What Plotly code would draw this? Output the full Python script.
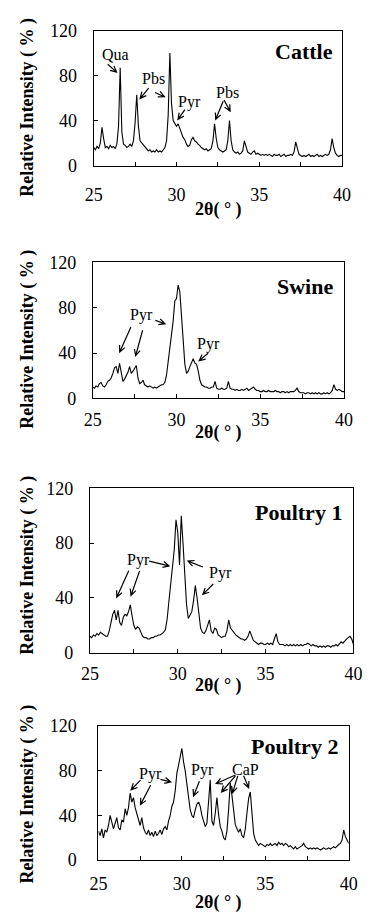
import math
import numpy as np
import plotly.graph_objects as go

# ---------------- data ----------------
two_theta = np.round(np.arange(25.0, 40.0001, 0.1), 1)  # 2-theta sampling grid (deg)

cattle = [
    16, 14, 17, 15, 20, 34, 24, 16, 17, 15,
    18, 16, 17, 15, 19, 35, 87, 30, 19, 18,
    16, 17, 19, 17, 22, 38, 63, 35, 22, 20,
    19, 16, 14, 13, 14, 12, 13, 12, 14, 12,
    13, 12, 14, 16, 22, 45, 100, 55, 40, 38,
    35, 37, 33, 29, 25, 23, 19, 17, 18, 23,
    25, 22, 21, 19, 18, 16, 15, 14, 15, 13,
    14, 15, 22, 37, 24, 16, 14, 13, 12, 13,
    14, 22, 40, 22, 14, 12, 11, 12, 10, 11,
    13, 22, 16, 12, 11, 10, 12, 13, 10, 11,
    10, 9, 10, 9, 10, 9, 10, 9, 8, 10,
    9, 9, 10, 8, 9, 10, 8, 9, 9, 10,
    9, 12, 21, 14, 10, 9, 8, 9, 8, 9,
    10, 8, 9, 8, 9, 10, 8, 9, 8, 9,
    10, 9, 10, 14, 24, 16, 11, 9, 8, 9,
    9,
]

swine = [
    10, 9, 11, 10, 13, 14, 11, 10, 12, 15,
    16, 18, 22, 27, 28, 22, 31, 24, 15, 17,
    20, 23, 28, 22, 24, 27, 29, 18, 13, 14,
    16, 12, 11, 10, 11, 10, 9, 10, 9, 10,
    11, 12, 12, 14, 20, 33, 48, 56, 68, 86,
    88, 100, 94, 70, 48, 30, 22, 24, 28, 32,
    35, 31, 30, 24, 16, 12, 11, 10, 10, 9,
    9, 10, 10, 15, 9, 8, 8, 9, 8, 8,
    9, 15, 9, 8, 8, 7, 8, 7, 7, 8,
    7, 8, 9, 7, 8, 9, 10, 8, 7, 7,
    6, 6, 7, 6, 6, 7, 6, 6, 6, 7,
    6, 6, 5, 6, 6, 5, 6, 5, 6, 6,
    6, 7, 9, 6, 5, 5, 5, 4, 5, 5,
    4, 5, 4, 5, 4, 5, 4, 4, 5, 4,
    5, 4, 5, 7, 12, 8, 7, 8, 7, 6,
    6,
]

poultry1 = [
    12, 11, 13, 12, 14, 13, 15, 14, 13, 12,
    12, 16, 22, 28, 31, 24, 31, 22, 20, 26,
    28, 27, 30, 35, 27, 20, 17, 19, 18, 15,
    12, 11, 11, 10, 10, 11, 11, 12, 12, 13,
    13, 14, 15, 17, 25, 38, 50, 58, 75, 97,
    88, 64, 100, 80, 55, 35, 25, 28, 30, 38,
    49, 40, 28, 18, 15, 14, 16, 20, 24, 16,
    14, 18, 17, 13, 12, 11, 12, 12, 16, 24,
    18, 16, 14, 13, 12, 11, 10, 10, 9, 10,
    12, 16, 12, 9, 8, 7, 6, 7, 7, 6,
    6, 7, 6, 7, 6, 10, 14, 8, 6, 6,
    6, 5, 6, 5, 6, 5, 6, 5, 6, 5,
    6, 5, 6, 6, 7, 6, 5, 6, 5, 5,
    4, 5, 4, 5, 4, 5, 5, 4, 5, 5,
    6, 5, 7, 8, 7, 9, 10, 11, 12, 10,
    6,
]

poultry2 = [
    26, 22, 28, 20, 27, 25, 31, 40, 34, 28,
    33, 38, 29, 27, 36, 34, 46, 40, 47, 60,
    52, 56, 47, 42, 35, 31, 38, 29, 25, 23,
    27, 22, 25, 21, 26, 22, 24, 27, 23, 28,
    30, 27, 35, 40, 48, 52, 62, 78, 85, 92,
    100, 88, 80, 68, 55, 45, 40, 38, 45, 50,
    52, 48, 40, 34, 30, 33, 50, 72, 35, 31,
    42, 56, 41, 30, 26, 20, 18, 26, 45, 69,
    58, 42, 32, 28, 25, 28, 22, 20, 28, 42,
    55, 61, 38, 24, 18, 15, 13, 15, 14, 13,
    12, 14, 13, 15, 13, 14, 15, 13, 16, 14,
    15, 13, 15, 14, 12, 13, 11, 10, 12, 10,
    11, 12, 13, 15, 12, 11, 10, 11, 10, 11,
    10, 11, 10, 9, 10, 11, 10, 10, 11, 10,
    11, 12, 11, 13, 14, 15, 18, 27, 21, 18,
    15,
]

panel_names = ["Cattle", "Swine", "Poultry 1", "Poultry 2"]
series = [cattle, swine, poultry1, poultry2]
x_ticks = [25, 30, 35, 40]
y_ticks = [0, 40, 80, 120]

# phase labels: (text, x, y) and arrows (x_tail, y_tail, x_tip, y_tip) in data units
phase_labels = [
    [("Qua", 26.29, 98.5), ("Pbs", 28.61, 77.0), ("Pyr", 30.79, 56.3), ("Pbs", 33.10, 65.2)],
    [("Pyr", 27.90, 73.2), ("Pyr", 31.93, 47.7)],
    [("Pyr", 27.76, 67.4), ("Pyr", 32.44, 58.1)],
    [("Pyr", 28.09, 77.5), ("Pyr", 31.24, 80.8), ("CaP", 33.80, 80.8)],
]
phase_arrows = [
    [(25.85, 90.0, 26.38, 83.0), (28.32, 68.9, 27.81, 59.7), (28.70, 65.0, 29.27, 61.2),
     (30.51, 49.7, 30.09, 41.1), (32.82, 57.1, 32.37, 41.1), (32.87, 58.3, 33.24, 48.4)],
    [(27.28, 63.0, 26.61, 41.0), (27.98, 60.1, 27.56, 37.6), (28.74, 68.8, 29.31, 65.9),
     (31.89, 39.9, 31.36, 33.3)],
    [(28.37, 66.9, 29.50, 63.4), (27.21, 59.8, 26.53, 40.6), (27.83, 59.8, 27.34, 41.8),
     (31.43, 62.6, 30.58, 66.9), (32.02, 50.2, 31.43, 42.6)],
    [(27.52, 71.7, 26.96, 63.0), (28.13, 67.1, 27.52, 49.7), (28.72, 72.3, 29.33, 70.0),
     (31.05, 70.7, 30.70, 57.5), (33.21, 76.2, 32.06, 68.6), (33.21, 75.5, 32.38, 61.0),
     (33.35, 75.5, 33.04, 60.4), (33.70, 75.5, 34.00, 64.8)],
]
name_pos = [(39.6, 101.7), (39.49, 98.7), (39.44, 102.6), (39.5, 101.3)]

# ---------------- layout geometry (pixels) ----------------
W, H = 372, 921
PANELS = [(89, 350, 21, 159), (88, 352, 258, 397), (85, 362, 489, 657), (94, 357, 732, 869)]
XSTAND = [13, 5, 5, 7]
YSTAND = [12, 12, 12, 17]
YTITLE_Y = [100, 337, 568, 802]
XTITLE_Y = [204, 432, 690, 912]
FONT = "Liberation Serif"


def arrow_path(x0, y0, x1, y1, sx, sy, L=7.0, ang=26.0):
    dx = (x1 - x0) * sx
    dy = (y1 - y0) * sy
    d = math.hypot(dx, dy)
    ux, uy = dx / d, dy / d
    wings = []
    for s in (1, -1):
        a = math.radians(ang * s)
        wx = ux * math.cos(a) - uy * math.sin(a)
        wy = ux * math.sin(a) + uy * math.cos(a)
        wings.append((x1 - L * wx / sx, y1 - L * wy / sy))
    return (f"M{x0},{y0} L{x1},{y1} M{wings[0][0]:.4f},{wings[0][1]:.4f} "
            f"L{x1},{y1} L{wings[1][0]:.4f},{wings[1][1]:.4f}")


fig = go.Figure()
annotations = []
shapes = []
for i, (name, ys) in enumerate(zip(panel_names, series)):
    n = "" if i == 0 else str(i + 1)
    xa, ya = "x" + n, "y" + n
    l, r, t, b = PANELS[i]
    fig.add_trace(go.Scatter(x=two_theta, y=ys, mode="lines",
                             line=dict(color="black", width=1.1),
                             xaxis=xa, yaxis=ya, showlegend=False, hoverinfo="skip"))
    axis_common = dict(showline=True, mirror=True, linecolor="black", linewidth=1,
                       ticks="inside", ticklen=4, tickcolor="black", showgrid=False,
                       zeroline=False, tickfont=dict(family=FONT, size=18, color="black"))
    fig.layout["xaxis" + n] = dict(domain=[l / W, r / W], anchor=ya, range=[25, 40],
                                   tickvals=x_ticks, ticklabelstandoff=XSTAND[i],
                                   minor=dict(ticks="inside", ticklen=4, dtick=2.5, tick0=25,
                                              tickcolor="black", showgrid=False),
                                   **axis_common)
    fig.layout["yaxis" + n] = dict(domain=[1 - b / H, 1 - t / H], anchor=xa, range=[0, 120],
                                   tickvals=y_ticks, ticklabelstandoff=YSTAND[i],
                                   **axis_common)
    sx = (r - l) / 15.0
    sy = (b - t) / 120.0
    for txt, x, y in phase_labels[i]:
        annotations.append(dict(text=txt, x=x, y=y, xref=xa, yref=ya, showarrow=False,
                                xanchor="center", yanchor="middle",
                                font=dict(family=FONT, size=16, color="black")))
    for (x0, y0, x1, y1) in phase_arrows[i]:
        shapes.append(dict(type="path", path=arrow_path(x0, y0, x1, y1, sx, sy),
                           xref=xa, yref=ya, line=dict(color="black", width=1.2)))
    nx, ny = name_pos[i]
    annotations.append(dict(text=f"<b>{name}</b>", x=nx, y=ny, xref=xa, yref=ya,
                            xanchor="right", yanchor="middle", showarrow=False,
                            font=dict(family=FONT, size=22, color="black")))
    annotations.append(dict(text="<b>Relative Intensity ( % )</b>", x=20 / W,
                            y=1 - YTITLE_Y[i] / H, xref="paper", yref="paper",
                            xanchor="center", yanchor="middle",
                            textangle=-90, showarrow=False,
                            font=dict(family=FONT, size=18, color="black")))
    annotations.append(dict(text="<b>2θ( ° )</b>", x=220 / W, y=1 - XTITLE_Y[i] / H,
                            xref="paper", yref="paper", xanchor="center", yanchor="middle",
                            showarrow=False,
                            font=dict(family=FONT, size=18, color="black")))

fig.update_layout(width=W, height=H, margin=dict(l=0, r=0, t=0, b=0),
                  paper_bgcolor="white", plot_bgcolor="white",
                  font=dict(family=FONT, color="black"),
                  annotations=annotations, shapes=shapes)

fig.write_html("out.html")
